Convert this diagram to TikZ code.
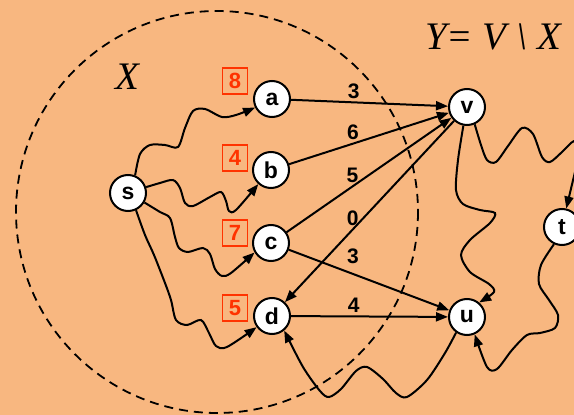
\documentclass[tikz,border=0pt]{standalone}
\usepackage{fontspec}
\setmainfont{Liberation Serif}
\setsansfont{Liberation Sans}
\usetikzlibrary{graphs, quotes, arrows.meta}

\definecolor{peach}{RGB}{248,183,128}
\definecolor{keyred}{RGB}{255,51,0}

\begin{document}
\begin{tikzpicture}[x=1pt, y=-1pt, line width=2pt,
    >={Triangle[length=12pt, width=9pt]},
    vertex/.style={draw, circle, fill=white, minimum size=36pt, inner sep=0pt,
        font=\sffamily\bfseries\fontsize{23}{23}\selectfont},
    key/.style={draw=keyred, text=keyred, line width=1.6pt, minimum width=25pt,
        minimum height=26pt, inner sep=0pt, font=\sffamily\bfseries\fontsize{22}{22}\selectfont},
    every edge quotes/.style={above, pos=.4, inner sep=3pt,
        font=\sffamily\bfseries\fontsize{21}{21}\selectfont}]
    \useasboundingbox (0,0) rectangle (574,415);
    \fill[peach] (0,0) rectangle (574,415);

    \draw[line width=1.8pt, dash pattern=on 9pt off 6pt] (217,212) circle[radius=201];

    \node[font=\itshape\fontsize{39}{39}\selectfont] (xlab) at (127,77) {X};
    \node[font=\itshape\fontsize{39}{39}\selectfont] (ylab) at (493,37) {Y= V \textbackslash\ X};

    \node[vertex] (s) at (128,193) {s};
    \node[vertex] (a) at (272,99)  {a};
    \node[vertex] (b) at (271,170) {b};
    \node[vertex] (c) at (271,243) {c};
    \node[vertex] (d) at (272,316) {d};
    \node[vertex] (v) at (467,107) {v};
    \node[vertex] (u) at (467,317) {u};
    \node[vertex] (t) at (562,227) {t};

    \node[key] (ka) at (235,81)  {8};
    \node[key] (kb) at (235,158) {4};
    \node[key] (kc) at (235,233) {7};
    \node[key] (kd) at (235,308) {5};

    \graph{
    (a) ->["3"] (v);
    (b) ->["6"] (v);
    (c) ->["5"] (v);
    (v) ->["0" pos=.6] (d);
    (c) ->["3" above=6pt] (u);
    (d) ->["4"] (u);
    };

    \draw[->] plot[smooth] coordinates {(s.68) (140,154) (150,145) (165,145) (178,147)
        (185,128) (193,111) (205,109) (222,117) (236,115) (a.207)};
    \draw[->] plot[smooth] coordinates {(s.18) (160,183) (173,180) (180,188) (185,203)
        (193,206) (210,197) (221,192) (226,201) (229,211) (236,210) (b.228)};
    \draw[->] plot[smooth] coordinates {(s.-30) (160,212) (170,218) (175,237) (179,248)
        (188,252) (203,248) (210,254) (215,269) (222,276) (231,273) (c.210)};
    \draw[->] plot[smooth] coordinates {(s.-65) (145,235) (154,255) (165,283) (171,300)
        (176,320) (187,325) (201,320) (209,333) (216,346) (227,347) (d.216)};
    \draw[->] plot[smooth] coordinates {(v.259) (458,160) (456,190) (463,204) (480,210)
        (495,213) (490,223) (470,240) (461,255) (470,272) (489,284) (494,292) (u.50)};
    \draw[->] plot[smooth] coordinates {(v.-66) (481,145) (487,160) (496,162) (508,146)
        (522,128) (533,134) (542,157) (550,162) (562,152) (574,141) (582,146) (576,168) (t.77)};
    \draw[->] plot[smooth] coordinates {(t.245) (541,265) (539,284) (549,300) (558,315)
        (555,328) (540,333) (527,335) (512,350) (497,369) (487,367) (u.-66)};
    \draw[->] plot[smooth] coordinates {(u.235) (445,353) (427,380) (407,397) (396,393)
        (383,379) (367,367) (356,371) (341,389) (329,397) (320,391) (303,367) (d.-50)};
\end{tikzpicture}
\end{document}
